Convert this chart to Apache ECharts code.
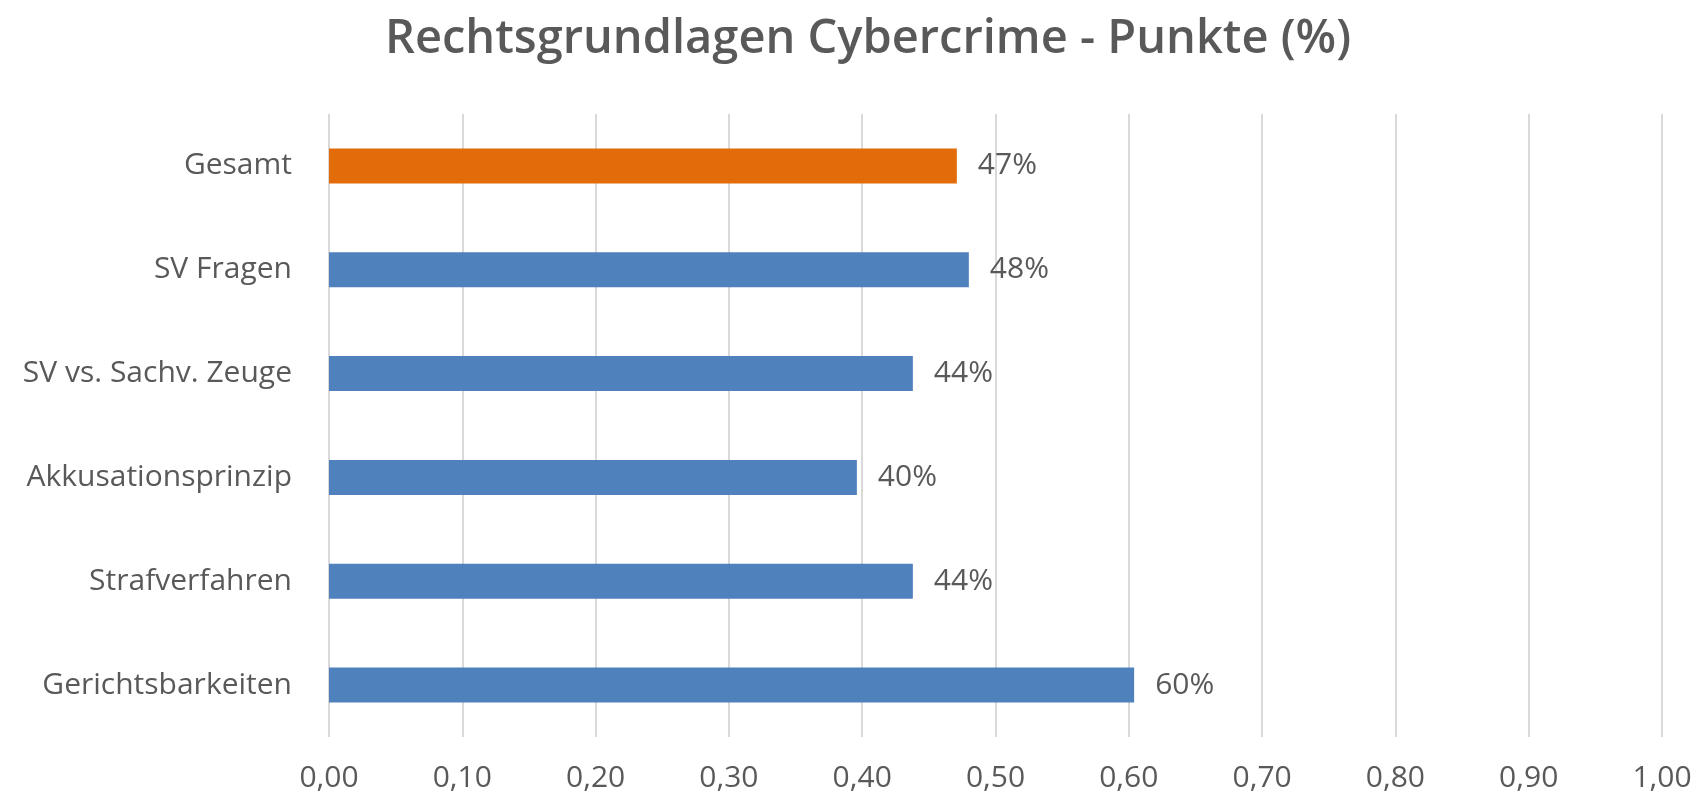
<!DOCTYPE html>
<html><head><meta charset="utf-8">
<script src="https://cdn.jsdelivr.net/npm/echarts@6/dist/echarts.min.js"></script>
<style>html,body{margin:0;padding:0;background:#fff}#c{width:1699px;height:796px}</style>
</head><body><div id="c"></div>
<script>
const categories = ["Gesamt","SV Fragen","SV vs. Sachv. Zeuge","Akkusationsprinzip","Strafverfahren","Gerichtsbarkeiten"];
const values = [0.471, 0.480, 0.438, 0.396, 0.438, 0.604];
const valueLabels = ["47%","48%","44%","40%","44%","60%"];
const barColors = ["#E36C0A","#4F81BD","#4F81BD","#4F81BD","#4F81BD","#4F81BD"];
const title = "Rechtsgrundlagen Cybercrime - Punkte (%)";
const FONT = "Open Sans";
const chart = echarts.init(document.getElementById('c'), null, {renderer:'canvas'});
chart.setOption({
  animation:false,
  title:{text:title,left:863,textAlign:'center',top:11,textStyle:{fontFamily:FONT,fontSize:47,fontWeight:600,color:'#595959'}},
  grid:{left:329,right:37,top:114,bottom:59,containLabel:false},
  xAxis:{type:'value',min:0,max:1,interval:0.1,
    axisLine:{show:false},axisTick:{show:false},
    splitLine:{show:true,lineStyle:{color:'#D9D9D9',width:2}},
    axisLabel:{margin:26,fontFamily:FONT,fontSize:30,color:'#595959',formatter:v=>v.toFixed(2).replace('.',',')}},
  yAxis:{type:'category',inverse:true,data:categories,
    axisLine:{show:false},axisTick:{show:false},
    axisLabel:{margin:37,fontFamily:FONT,fontSize:30,color:'#595959'}},
  series:[{type:'bar',barWidth:35,
    data:values.map((v,i)=>({value:v,itemStyle:{color:barColors[i]},label:{formatter:valueLabels[i]}})),
    label:{show:true,position:'right',distance:21,fontFamily:FONT,fontSize:30,color:'#595959'}}]
});
</script></body></html>
